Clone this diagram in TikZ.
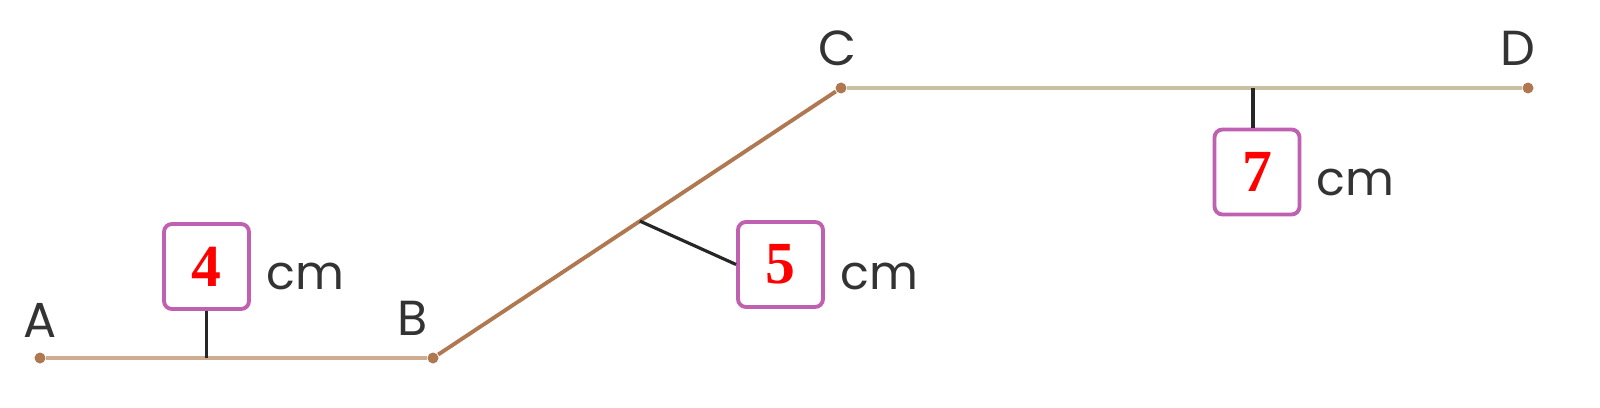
\documentclass[tikz,border=0pt]{standalone}
\usepackage{fontspec}
\setmainfont{Liberation Serif}
\newfontfamily\labelfont{Poppins}
\usetikzlibrary{positioning,calc}

\definecolor{segbrown}{RGB}{176,120,80}
\definecolor{segtan}{RGB}{205,172,145}
\definecolor{seggrey}{RGB}{200,192,165}
\definecolor{boxpink}{RGB}{192,96,176}

\tikzset{
  pt/.style={circle, fill=segbrown, inner sep=0pt, minimum size=0.11cm},
  ptlabel/.style={font=\labelfont\fontsize{14}{16}\selectfont, text=black!80},
  numbox/.style={draw=boxpink, line width=1.1pt, rounded corners=0.08cm, minimum size=0.85cm,
    inner sep=0pt, font=\bfseries\fontsize{17}{19}\selectfont, text=red},
  unit/.style={font=\labelfont\fontsize{13.5}{16}\selectfont, text=black!80},
  tick/.style={line width=0.9pt, black!85}
}

\begin{document}
\begin{tikzpicture}
\useasboundingbox (0,0) rectangle (16,4.07);
\node[pt] (A) at (0.40,0.49) {};
\node[pt] (B) at (4.33,0.49) {};
\node[pt] (C) at (8.41,3.19) {};
\node[pt] (D) at (15.28,3.19) {};
\node[ptlabel] at (0.40,0.87) {A};
\node[ptlabel] at (4.13,0.89) {B};
\node[ptlabel] at (8.37,3.59) {C};
\node[ptlabel] at (15.18,3.59) {D};
\draw[segtan, line width=1.1pt] (A) -- (B);
\draw[segbrown, line width=1.1pt] (B) -- (C);
\draw[seggrey, line width=1.1pt] (C) -- (D);
% number boxes
\node[numbox] (len1) at (2.065,1.405) {4};
\node[numbox] (len2) at (7.805,1.425) {5};
\node[numbox] (len3) at (12.57,2.35) {7};
\node[unit, right=0.03cm of len1, yshift=-0.1cm] {cm};
\node[unit, right=0.03cm of len2, yshift=-0.12cm] {cm};
\node[unit, right=0.03cm of len3, yshift=-0.1cm] {cm};
% ticks
\coordinate (m1) at (2.065,0.49);
\coordinate (m2) at ($(B)!0.507!(C)$);
\coordinate (m3) at (12.53,3.19);
\draw[tick] (m1) -- (len1.south);
\draw[tick] (m2) -- (len2.west);
\draw[tick] (m3) -- (m3 |- len3.north);
\end{tikzpicture}
\end{document}
